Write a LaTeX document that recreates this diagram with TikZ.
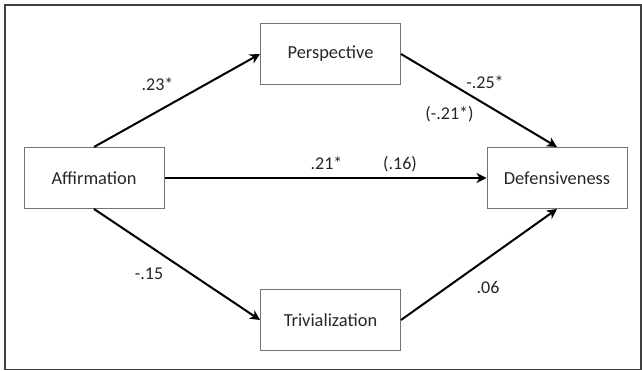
\documentclass[tikz,border=0pt]{standalone}
\usepackage{fontspec}
\setmainfont{Carlito}
\usetikzlibrary{positioning,arrows.meta}

\begin{document}
\begin{tikzpicture}[x=1pt,y=1pt,on grid,
  main/.style = {draw=black!55, line width=1pt, minimum width=140pt, minimum height=61pt, font=\fontsize{18.4}{22}\selectfont, text=black!85},
  lbl/.style = {anchor=base, inner sep=0pt, font=\fontsize{18}{22}\selectfont, text=black!85},
  arr/.style = {-{Stealth[length=10pt,width=10pt,inset=3pt]}, line width=2pt}]
\useasboundingbox (0,0) rectangle (642,371);
\draw[line width=1.6pt, black!75] (5,1.5) rectangle (641,366);
\node[main] (aff) at (94,193) {Affirmation};
\node[main] (per) [above right=124pt and 236.5pt of aff] {Perspective};
\node[main] (def) [right=463pt of aff] {Defensiveness};
\node[main] (tri) [below right=142pt and 236.5pt of aff] {Trivialization};
\draw[arr] (aff.north) -- (per.west);
\draw[arr] (per.east) -- (def.north);
\draw[arr] (aff.east) -- (def.west);
\draw[arr] (aff.south) -- (tri.west);
\draw[arr] (tri.east) -- (def.south);
\node[lbl] (l1) at (157.5,280.3) {.23*};
\node[lbl] (l2) at (485,282.7) {-.25*};
\node[lbl] (l3) at (449.5,251.2) {(-.21*)};
\node[lbl] (l4) at (326.5,201) {.21*};
\node[lbl] (l5) at (400,201) {(.16)};
\node[lbl] (l6) at (149,91) {-.15};
\node[lbl] (l7) at (488,77) {.06};
\end{tikzpicture}
\end{document}
